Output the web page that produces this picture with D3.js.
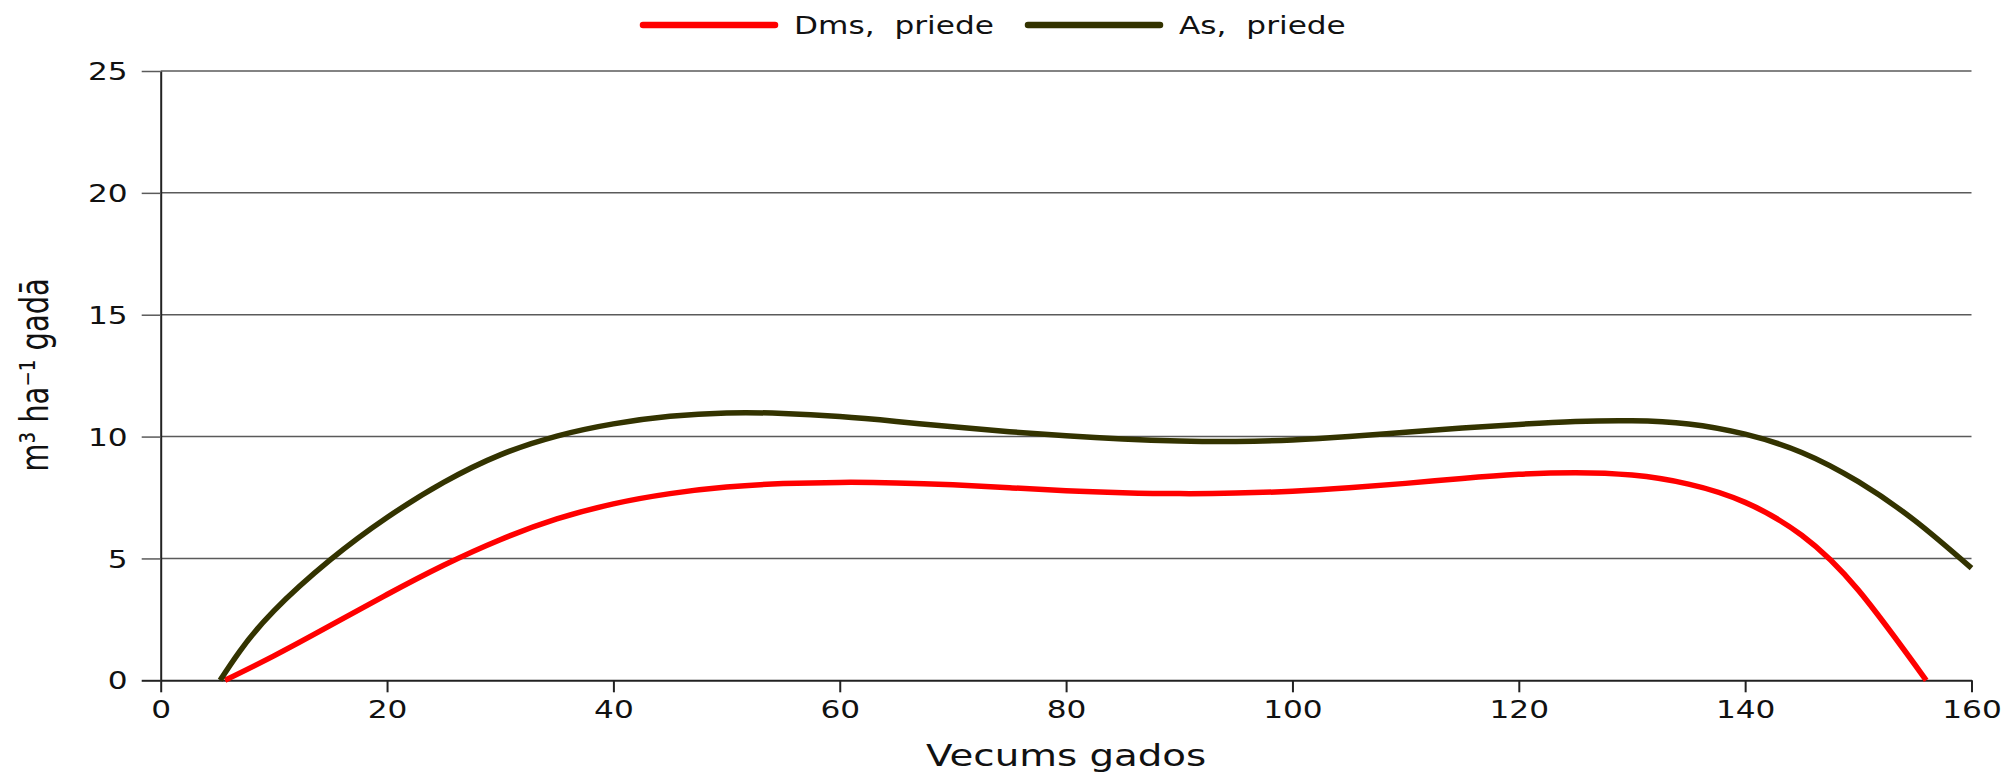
<!DOCTYPE html>
<html>
<head>
<meta charset="utf-8">
<script src="https://cdn.jsdelivr.net/npm/d3@7"></script>
<style>
  body { margin: 0; background: #fff; }
  text { font-family: "DejaVu Sans", sans-serif; fill: #111; }
</style>
</head>
<body>
<div id="plot"></div>
<script>
let width = 2006;
let height = 773;

// data (age in years, m3/ha per year)
let seriesNames = ["Dms,  priede", "As,  priede"];
let seriesColors = ["#ff0000", "#333300"];

let dmsAge = [5.68, 10, 15, 20, 25, 30, 35, 40, 45, 50, 55, 60, 65, 70, 75, 80, 85, 90, 95, 100,
    105, 110, 115, 120, 125, 130, 135, 140, 145, 150, 156];
let dmsValue = [0, 1.0, 2.25, 3.52, 4.72, 5.77, 6.62, 7.24, 7.66, 7.93, 8.07, 8.12, 8.1, 8.02, 7.9, 7.78, 7.7, 7.66, 7.68, 7.76,
    7.9, 8.08, 8.28, 8.45, 8.52, 8.42, 8.05, 7.3, 5.95, 3.7, 0];

let asAge = [5.25, 7, 10, 15, 20, 25, 30, 35, 40, 45, 50, 55, 60, 65, 70, 75, 80, 85, 90, 95, 100,
    105, 110, 115, 120, 125, 130, 135, 140, 145, 150, 155, 160];
let asValue = [0, 1.2, 2.85, 4.95, 6.68, 8.12, 9.25, 10.02, 10.52, 10.83, 10.97, 10.95, 10.82, 10.62, 10.4, 10.2, 10.03, 9.9, 9.82, 9.8, 9.86,
    10.0, 10.18, 10.35, 10.5, 10.62, 10.65, 10.52, 10.1, 9.35, 8.15, 6.55, 4.6];

let xTicks = [0, 20, 40, 60, 80, 100, 120, 140, 160];
let yTicks = [0, 5, 10, 15, 20, 25];

let xLabel = "Vecums gados";
let yLabel = "m³ ha⁻¹ gadā";

// the original picture is stretched sideways, text too
let stretch = 1.3;

let svg = d3.select("#plot")
    .append("svg")
    .attr("width", width)
    .attr("height", height)
    .style("background", "#fff");

let x = d3.scaleLinear().domain([0, 160]).range([160.7, 1971.5]);
let y = d3.scaleLinear().domain([0, 25]).range([680.3, 71]);

// grid
svg.append("g")
    .selectAll("line")
    .data(yTicks.filter(d => d > 0))
    .join("line")
    .attr("x1", x(0))
    .attr("x2", x(160))
    .attr("y1", d => y(d))
    .attr("y2", d => y(d))
    .attr("stroke", "#5a5a5a")
    .attr("stroke-width", 1.5);

function stretchText(sel) {
    sel.each(function () {
        let t = d3.select(this);
        let tx = +t.attr("x") || 0;
        let ty = +t.attr("y") || 0;
        t.attr("x", 0).attr("y", 0)
            .attr("transform", "translate(" + tx + "," + ty + ") scale(" + stretch + ",1)");
    });
}

let yAxis = d3.axisLeft(y).tickValues(yTicks).tickSize(19).tickPadding(14).tickSizeOuter(0);
let gy = svg.append("g")
    .attr("transform", "translate(" + x(0) + ",0)")
    .call(yAxis);
gy.select(".domain").attr("stroke", "#222").attr("stroke-width", 2);
gy.selectAll(".tick line")
    .attr("stroke", d => d == 0 ? "#222" : "#5a5a5a")
    .attr("stroke-width", d => d == 0 ? 2 : 1.5);
gy.selectAll(".tick text")
    .attr("font-size", 24)
    .attr("font-family", "DejaVu Sans")
    .attr("fill", "#111")
    .attr("dy", "0.36em")
    .call(stretchText);

let xAxis = d3.axisBottom(x).tickValues(xTicks).tickSize(12).tickPadding(9).tickSizeOuter(0);
let gx = svg.append("g")
    .attr("transform", "translate(0," + y(0) + ")")
    .call(xAxis);
gx.select(".domain").attr("stroke", "#222").attr("stroke-width", 2);
gx.selectAll(".tick line").attr("stroke", "#222").attr("stroke-width", 2);
gx.selectAll(".tick text")
    .attr("font-size", 24)
    .attr("font-family", "DejaVu Sans")
    .attr("fill", "#111")
    .call(stretchText);

// axis titles
svg.append("text")
    .attr("transform", "translate(" + ((x(0) + x(160)) / 2) + ",766) scale(1.27,1)")
    .attr("text-anchor", "middle")
    .attr("font-size", 30.5)
    .text(xLabel);

svg.append("text")
    .attr("transform", "translate(48,375) scale(1.33,1) rotate(-90)")
    .attr("text-anchor", "middle")
    .attr("font-size", 29)
    .text(yLabel);

// curves
let line = d3.line()
    .x(d => x(d[0]))
    .y(d => y(d[1]))
    .curve(d3.curveNatural);

let series = [
    d3.zip(dmsAge, dmsValue),
    d3.zip(asAge, asValue)
];

series.forEach((pts, i) => {
    svg.append("path")
        .datum(pts)
        .attr("d", line)
        .attr("fill", "none")
        .attr("stroke", seriesColors[i])
        .attr("stroke-width", 5.5)
        .attr("stroke-linejoin", "round");
});

// legend
let legendX = [643, 1028];
let legend = svg.append("g");
seriesNames.forEach((name, i) => {
    legend.append("line")
        .attr("x1", legendX[i])
        .attr("x2", legendX[i] + 132)
        .attr("y1", 25)
        .attr("y2", 25)
        .attr("stroke", seriesColors[i])
        .attr("stroke-width", 6.5)
        .attr("stroke-linecap", "round");
    legend.append("text")
        .attr("transform", "translate(" + (legendX[i] + 151) + ",34) scale(" + stretch + ",1)")
        .attr("font-size", 24)
        .style("white-space", "pre")
        .text(name);
});
</script>
</body>
</html>
